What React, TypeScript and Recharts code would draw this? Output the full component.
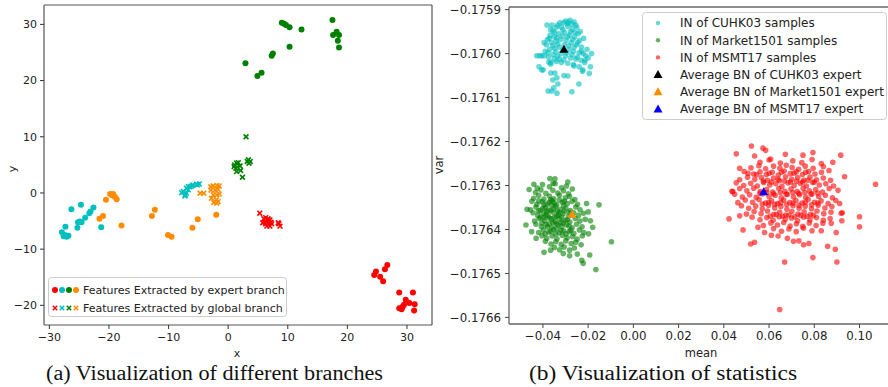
import { ScatterChart, Scatter, XAxis, YAxis, ReferenceLine } from 'recharts'

const FONT = 'DejaVu Sans'

// ---- (a) features, t-SNE style coordinates ----
const expertRed = [
  [24.5, -14.6], [24.8, -14.0], [25.5, -14.9], [26.0, -15.7], [26.3, -13.6], [26.7, -12.8],
  [28.7, -17.7], [31.0, -17.7], [29.8, -19.0], [30.4, -19.6], [31.3, -19.8], [29.3, -20.2],
  [28.7, -20.5], [29.1, -20.7], [31.2, -20.9], [29.5, -19.9],
]
const expertCyan = [
  [-27.9, -7.0], [-27.1, -7.8], [-27.4, -7.5], [-26.8, -7.6], [-27.3, -6.0], [-26.3, -2.9],
  [-24.7, -2.1], [-24.9, -5.1], [-25.2, -5.2], [-25.3, -6.2], [-24.0, -4.4], [-23.3, -3.6],
  [-23.1, -3.3], [-22.6, -2.6], [-21.3, -6.1], [-24.6, -5.2], [-27.6, -7.7],
]
const expertGreen = [
  [9.0, 30.3], [9.4, 30.1], [9.7, 29.9], [10.3, 29.5], [12.3, 29.1], [10.3, 26.0],
  [17.5, 30.8], [17.6, 28.1], [18.2, 28.7], [18.6, 28.1], [18.4, 27.1], [18.6, 25.9],
  [7.3, 24.4], [7.5, 24.8], [4.9, 20.8], [5.6, 21.4], [2.9, 23.1],
]
const expertOrange = [
  [-19.5, -0.4], [-19.3, -0.2], [-19.0, -0.7], [-18.7, -1.1], [-20.5, -1.2], [-21.6, -4.6],
  [-21.0, -4.1], [-17.9, -5.8], [-12.8, -4.1], [-12.3, -3.0], [-10.1, -7.5], [-9.5, -7.8],
  [-6.0, -6.2], [-5.1, -4.7], [-2.0, -3.9], [-19.8, -0.2], [-19.2, -0.5],
]
const globalRed = [
  [5.3, -3.6], [6.0, -4.6], [6.3, -4.4], [6.7, -4.6], [7.0, -4.8], [7.2, -5.2], [6.7, -5.3],
  [6.2, -5.2], [5.8, -5.3], [6.5, -5.9], [7.0, -5.9], [7.3, -5.5], [6.8, -5.0], [6.3, -5.5],
  [8.4, -5.3], [8.7, -5.9], [8.5, -5.5],
]
const globalCyan = [
  [-7.5, 0.25], [-7.0, 0.85], [-7.2, -0.35], [-6.7, 0.55], [-6.4, 1.1], [-5.9, 1.4],
  [-5.3, 1.55], [-4.85, 1.6], [-7.0, -0.05], [-6.1, 1.25], [-7.8, 0.05], [-7.25, -0.55],
  [-6.7, 1.1], [-5.15, 1.45],
]
const globalGreen = [
  [3.0, 10.0], [1.4, 5.3], [2.1, 4.0], [2.4, 2.8], [3.4, 5.9], [3.7, 5.6], [3.2, 5.6],
  [1.1, 5.0], [1.7, 5.4], [2.0, 4.8], [1.3, 4.4], [1.4, 3.8], [1.0, 4.7], [3.5, 5.3],
]
const globalOrange = [
  [-4.7, -0.05], [-4.1, -0.05], [-2.9, 1.1], [-2.5, 1.25], [-1.9, 1.3], [-1.5, 1.25],
  [-2.9, 0.5], [-2.2, 0.5], [-1.7, 0.65], [-2.5, -0.35], [-1.9, -0.35], [-1.5, -0.2],
  [-2.8, -0.95], [-2.0, -1.25], [-1.7, -1.55], [-2.4, -1.7], [-1.9, -1.8],
]
const ticksA_x = [-30, -20, -10, 0, 10, 20, 30]
const ticksA_y = [-20, -10, 0, 10, 20, 30]

// ---- (b) statistics: [mean, var] ----
const inCuhk = [
  [-0.0325, -0.17593], [-0.0300, -0.175926], [-0.0280, -0.175924], [-0.0262, -0.175928], [-0.0250, -0.17594],
  [-0.0340, -0.17594], [-0.0355, -0.175948], [-0.0318, -0.17594], [-0.0290, -0.175938], [-0.0270, -0.175945],
  [-0.0245, -0.175955], [-0.0368, -0.175958], [-0.0380, -0.175968], [-0.0350, -0.175962], [-0.0330, -0.175955],
  [-0.0305, -0.175952], [-0.0283, -0.175958], [-0.0260, -0.175962], [-0.0238, -0.17597], [-0.0385, -0.17598],
  [-0.0362, -0.175975], [-0.0342, -0.175972], [-0.0322, -0.175968], [-0.0298, -0.17597], [-0.0275, -0.175975],
  [-0.0252, -0.17598], [-0.0230, -0.175985], [-0.0390, -0.175995], [-0.0370, -0.17599], [-0.0348, -0.175988],
  [-0.0327, -0.175985], [-0.0312, -0.175992], [-0.0285, -0.17599], [-0.0265, -0.175995], [-0.0240, -0.175998],
  [-0.0222, -0.176], [-0.0395, -0.176005], [-0.0375, -0.176008], [-0.0355, -0.176002], [-0.0335, -0.176006],
  [-0.0300, -0.176005], [-0.0278, -0.17601], [-0.0255, -0.176012], [-0.0232, -0.176015], [-0.0210, -0.176005],
  [-0.0405, -0.176005], [-0.0365, -0.17602], [-0.0340, -0.176018], [-0.0318, -0.17602], [-0.0290, -0.176022],
  [-0.0265, -0.176025], [-0.0240, -0.17603], [-0.0215, -0.17602], [-0.0382, -0.175935], [-0.0272, -0.175933],
  [-0.0310, -0.17593], [-0.0235, -0.17595], [-0.0360, -0.175935], [-0.0220, -0.175965], [-0.0395, -0.175975],
  [-0.0185, -0.176], [-0.0200, -0.17601], [-0.0205, -0.17599], [-0.0190, -0.17603], [-0.0225, -0.17604],
  [-0.0195, -0.176045], [-0.0428, -0.176005], [-0.0415, -0.176005], [-0.0417, -0.17603], [-0.0405, -0.176037],
  [-0.0374, -0.176019], [-0.0365, -0.176044], [-0.0347, -0.176044], [-0.0338, -0.176055], [-0.0356, -0.17606],
  [-0.0334, -0.176069], [-0.0352, -0.176078], [-0.0361, -0.176085], [-0.0338, -0.17609], [-0.0272, -0.176087],
  [-0.0241, -0.176069], [-0.0224, -0.176037], [-0.0263, -0.176028], [-0.0215, -0.176015], [-0.0290, -0.176051],
  [-0.0377, -0.176085], [-0.0307, -0.17605], [-0.0399, -0.176037], [-0.0366, -0.176024],
  [-0.0335, -0.175935], [-0.0292, -0.175932], [-0.0348, -0.175952], [-0.0312, -0.175946], [-0.0278, -0.17595],
  [-0.0258, -0.175952], [-0.0372, -0.175965], [-0.0338, -0.175964], [-0.0314, -0.17596], [-0.0291, -0.175962],
  [-0.0268, -0.175968], [-0.0246, -0.175975], [-0.0356, -0.175982], [-0.0334, -0.175978], [-0.0305, -0.17598],
  [-0.0286, -0.175982], [-0.0262, -0.175985], [-0.0378, -0.175998], [-0.0343, -0.175996], [-0.0320, -0.176],
  [-0.0295, -0.175998], [-0.0272, -0.176002], [-0.0248, -0.176008], [-0.0350, -0.176012], [-0.0328, -0.176012],
  [-0.0308, -0.176014], [-0.0366, -0.175945], [-0.0255, -0.175935], [-0.0288, -0.175928], [-0.0230, -0.175995],
]
const inMarket = [
  [-0.0402, -0.176298], [-0.0371, -0.176303], [-0.0346, -0.176296], [-0.0318, -0.176305], [-0.0296, -0.176301], [-0.0425, -0.176306],
  [-0.0433, -0.176316], [-0.0409, -0.17631], [-0.0387, -0.176318], [-0.0356, -0.176311], [-0.0334, -0.176317], [-0.0309, -0.176312],
  [-0.0287, -0.176319], [-0.0270, -0.176308], [-0.0441, -0.176329], [-0.0419, -0.176323], [-0.0396, -0.176331], [-0.0371, -0.176324],
  [-0.0352, -0.17633], [-0.0327, -0.176322], [-0.0301, -0.176328], [-0.0282, -0.176325], [-0.0259, -0.176332], [-0.0449, -0.176336],
  [-0.0427, -0.176343], [-0.0403, -0.176337], [-0.0381, -0.176342], [-0.0359, -0.176335], [-0.0339, -0.176344], [-0.0314, -0.176338],
  [-0.0292, -0.176341], [-0.0271, -0.176336], [-0.0247, -0.176343], [-0.0455, -0.176355], [-0.0431, -0.176349], [-0.0411, -0.176356],
  [-0.0389, -0.17635], [-0.0365, -0.176357], [-0.0344, -0.176348], [-0.0323, -0.176354], [-0.0299, -0.176351], [-0.0279, -0.176357],
  [-0.0255, -0.176349], [-0.0236, -0.176355], [-0.0444, -0.176362], [-0.0423, -0.176368], [-0.0398, -0.176363], [-0.0377, -0.176369],
  [-0.0356, -0.176361], [-0.0332, -0.176367], [-0.0311, -0.176364], [-0.0287, -0.17637], [-0.0264, -0.176362], [-0.0243, -0.176368],
  [-0.0221, -0.176363], [-0.0437, -0.176381], [-0.0416, -0.176375], [-0.0392, -0.17638], [-0.0371, -0.176374], [-0.0347, -0.176382],
  [-0.0327, -0.176376], [-0.0302, -0.176379], [-0.0281, -0.176383], [-0.0257, -0.176375], [-0.0236, -0.176381], [-0.0213, -0.176377],
  [-0.0431, -0.176388], [-0.0407, -0.176394], [-0.0386, -0.176389], [-0.0361, -0.176395], [-0.0341, -0.176387], [-0.0317, -0.176393],
  [-0.0296, -0.17639], [-0.0271, -0.176396], [-0.0251, -0.176388], [-0.0227, -0.176394], [-0.0419, -0.176407], [-0.0398, -0.176401],
  [-0.0374, -0.176406], [-0.0353, -0.1764], [-0.0329, -0.176408], [-0.0308, -0.176403], [-0.0284, -0.176405], [-0.0263, -0.176409],
  [-0.0239, -0.176401], [-0.0219, -0.176407], [-0.0404, -0.176414], [-0.0383, -0.17642], [-0.0359, -0.176415], [-0.0338, -0.176421],
  [-0.0314, -0.176413], [-0.0293, -0.176419], [-0.0269, -0.176416], [-0.0249, -0.176422], [-0.0226, -0.176415], [-0.0389, -0.176427],
  [-0.0364, -0.176433], [-0.0343, -0.176428], [-0.0319, -0.176434], [-0.0299, -0.176426], [-0.0275, -0.176432], [-0.0255, -0.176429],
  [-0.0231, -0.176435], [-0.0349, -0.176441], [-0.0326, -0.176446], [-0.0306, -0.17644], [-0.0282, -0.176447], [-0.0261, -0.176442],
  [-0.0362, -0.176345], [-0.0349, -0.176372], [-0.0335, -0.176358], [-0.0372, -0.176387], [-0.0321, -0.176384], [-0.0384, -0.17636],
  [-0.0340, -0.176398], [-0.0309, -0.176346], [-0.0366, -0.176332], [-0.0395, -0.176373],
  [-0.0418, -0.176335], [-0.0395, -0.176344], [-0.0372, -0.176338], [-0.0350, -0.17634], [-0.0327, -0.176333], [-0.0305, -0.176336],
  [-0.0420, -0.176358], [-0.0400, -0.176352], [-0.0377, -0.176356], [-0.0353, -0.176353], [-0.0330, -0.176362], [-0.0307, -0.176358],
  [-0.0285, -0.176361], [-0.0410, -0.176372], [-0.0387, -0.176368], [-0.0363, -0.176376], [-0.0340, -0.17637], [-0.0317, -0.176372],
  [-0.0292, -0.176378], [-0.0405, -0.176385], [-0.0380, -0.176394], [-0.0356, -0.176384], [-0.0333, -0.17639], [-0.0310, -0.176385],
  [-0.0285, -0.176392], [-0.0390, -0.17641], [-0.0366, -0.176404], [-0.0344, -0.17641], [-0.0320, -0.176402], [-0.0298, -0.17641],
  [-0.0277, -0.176402],
  [-0.0475, -0.17639], [-0.0097, -0.176428], [-0.0166, -0.176491], [-0.0222, -0.176477], [-0.0228, -0.17647], [-0.0366, -0.176447],
  [-0.0193, -0.176458], [-0.0152, -0.176344], [-0.0369, -0.176284], [-0.0347, -0.176285], [-0.0461, -0.176309], [-0.0470, -0.176354],
  [-0.0207, -0.176341], [-0.0190, -0.17638], [-0.0198, -0.17641], [-0.0180, -0.176395], [-0.0395, -0.176452], [-0.0248, -0.176456],
  [-0.0282, -0.17646], [-0.0310, -0.176455], [-0.0430, -0.17642], [-0.0450, -0.176405], [-0.0355, -0.176295], [-0.0290, -0.176292],
  [-0.0440, -0.176297], [-0.0200, -0.17636],
]
const inMsmt = [
  [0.0560, -0.176247], [0.0600, -0.176242], [0.0650, -0.176249], [0.0705, -0.176244], [0.0745, -0.176248], [0.0790, -0.176241],
  [0.0520, -0.17626], [0.0555, -0.176255], [0.0585, -0.176262], [0.0620, -0.176256], [0.0648, -0.176261], [0.0676, -0.176254],
  [0.0702, -0.176259], [0.0731, -0.176263], [0.0760, -0.176256], [0.0795, -0.176261], [0.0840, -0.176257],
  [0.0490, -0.176268], [0.0532, -0.176274], [0.0560, -0.176269], [0.0588, -0.176275], [0.0614, -0.17627], [0.0641, -0.176276],
  [0.0667, -0.176267], [0.0694, -0.176273], [0.0720, -0.176269], [0.0748, -0.176275], [0.0775, -0.176268], [0.0803, -0.176274],
  [0.0832, -0.17627], [0.0865, -0.176266],
  [0.0470, -0.176287], [0.0505, -0.176281], [0.0537, -0.176286], [0.0566, -0.176282], [0.0593, -0.176288], [0.0620, -0.176283],
  [0.0646, -0.176289], [0.0673, -0.17628], [0.0700, -0.176286], [0.0727, -0.176282], [0.0754, -0.176288], [0.0781, -0.176281],
  [0.0810, -0.176287], [0.0840, -0.176283], [0.0872, -0.176288],
  [0.0455, -0.176294], [0.0488, -0.1763], [0.0519, -0.176295], [0.0548, -0.176301], [0.0576, -0.176293], [0.0603, -0.176299],
  [0.0630, -0.176296], [0.0657, -0.176302], [0.0684, -0.176294], [0.0711, -0.1763], [0.0738, -0.176295], [0.0765, -0.176301],
  [0.0793, -0.176293], [0.0822, -0.176299], [0.0851, -0.176296], [0.0885, -0.176301],
  [0.0436, -0.176313], [0.0470, -0.176307], [0.0502, -0.176312], [0.0532, -0.176306], [0.0561, -0.176314], [0.0589, -0.176309],
  [0.0616, -0.176315], [0.0643, -0.176307], [0.0670, -0.176313], [0.0697, -0.176308], [0.0724, -0.176314], [0.0751, -0.176306],
  [0.0778, -0.176312], [0.0806, -0.176309], [0.0836, -0.176315], [0.0866, -0.176307], [0.0905, -0.176311],
  [0.0448, -0.17632], [0.0482, -0.176326], [0.0514, -0.176321], [0.0543, -0.176327], [0.0572, -0.176319], [0.0600, -0.176325],
  [0.0627, -0.176322], [0.0654, -0.176328], [0.0681, -0.17632], [0.0708, -0.176326], [0.0735, -0.176321], [0.0762, -0.176327],
  [0.0790, -0.176319], [0.0819, -0.176325], [0.0849, -0.176322], [0.0880, -0.176328],
  [0.0462, -0.176339], [0.0495, -0.176333], [0.0527, -0.176338], [0.0556, -0.176332], [0.0584, -0.17634], [0.0611, -0.176335],
  [0.0638, -0.176341], [0.0665, -0.176333], [0.0692, -0.176339], [0.0719, -0.176334], [0.0746, -0.17634], [0.0773, -0.176332],
  [0.0801, -0.176338], [0.0830, -0.176335], [0.0861, -0.176341], [0.0895, -0.176334],
  [0.0478, -0.176346], [0.0510, -0.176352], [0.0541, -0.176347], [0.0570, -0.176353], [0.0598, -0.176345], [0.0625, -0.176351],
  [0.0652, -0.176348], [0.0679, -0.176354], [0.0706, -0.176346], [0.0733, -0.176352], [0.0760, -0.176347], [0.0788, -0.176353],
  [0.0817, -0.176345], [0.0847, -0.176351], [0.0878, -0.176348],
  [0.0500, -0.176365], [0.0534, -0.176359], [0.0565, -0.176364], [0.0593, -0.176358], [0.0620, -0.176366], [0.0647, -0.176361],
  [0.0674, -0.176367], [0.0701, -0.176359], [0.0728, -0.176365], [0.0755, -0.17636], [0.0783, -0.176366], [0.0812, -0.176358],
  [0.0842, -0.176364], [0.0874, -0.176361],
  [0.0525, -0.176372], [0.0560, -0.176378], [0.0590, -0.176373], [0.0618, -0.176379], [0.0645, -0.176371], [0.0672, -0.176377],
  [0.0699, -0.176374], [0.0726, -0.17638], [0.0753, -0.176372], [0.0781, -0.176378], [0.0810, -0.176373], [0.0840, -0.176379],
  [0.0870, -0.176375],
  [0.0575, -0.176391], [0.0608, -0.176385], [0.0637, -0.17639], [0.0665, -0.176384], [0.0693, -0.176392], [0.0721, -0.176387],
  [0.0749, -0.176393], [0.0778, -0.176385], [0.0808, -0.176391], [0.0838, -0.176386],
  [0.0620, -0.176398], [0.0655, -0.176404], [0.0688, -0.176399], [0.0720, -0.176405], [0.0752, -0.176397], [0.0790, -0.176403],
  [0.0575, -0.17629], [0.0610, -0.176292], [0.0640, -0.176286], [0.0668, -0.17629], [0.0695, -0.176292], [0.0722, -0.17629],
  [0.0748, -0.176292], [0.0772, -0.176288], [0.0800, -0.176292], [0.0560, -0.176318], [0.0590, -0.176316], [0.0620, -0.176319],
  [0.0650, -0.176316], [0.0676, -0.17632], [0.0705, -0.176316], [0.0732, -0.176318], [0.0758, -0.176316], [0.0786, -0.17632],
  [0.0815, -0.176317], [0.0570, -0.176342], [0.0598, -0.176338], [0.0625, -0.176343], [0.0652, -0.176339], [0.0678, -0.176343],
  [0.0706, -0.17634], [0.0732, -0.176345], [0.0760, -0.176338], [0.0788, -0.176344], [0.0816, -0.17634], [0.0605, -0.17637],
  [0.0632, -0.176366], [0.0660, -0.17637], [0.0688, -0.176367], [0.0714, -0.176371], [0.0740, -0.176368], [0.0768, -0.17637],
  [0.0796, -0.176368], [0.0545, -0.176275], [0.0600, -0.176272], [0.0655, -0.17627], [0.0710, -0.176272], [0.0762, -0.17627],
  [0.0455, -0.176228], [0.0522, -0.17621], [0.0573, -0.176215], [0.0585, -0.17622], [0.0672, -0.176229], [0.0750, -0.176231],
  [0.0794, -0.176225], [0.0917, -0.176231], [0.0536, -0.176233], [0.0607, -0.17624], [0.0831, -0.17625], [0.0882, -0.176247],
  [0.0934, -0.17628], [0.1071, -0.176297], [0.0440, -0.176314], [0.0470, -0.176261], [0.0507, -0.176272], [0.0423, -0.176376],
  [0.0470, -0.176369], [0.0485, -0.176401], [0.0519, -0.176433], [0.0536, -0.176429], [0.0551, -0.176395], [0.0580, -0.176407],
  [0.0681, -0.17642], [0.0708, -0.176427], [0.0732, -0.176426], [0.0753, -0.176435], [0.0776, -0.176432], [0.0794, -0.176464],
  [0.0669, -0.176474], [0.0859, -0.176438], [0.0893, -0.176445], [0.0900, -0.176474], [0.0912, -0.176341], [0.0919, -0.176363],
  [0.0924, -0.176362], [0.0922, -0.17638], [0.1000, -0.176371], [0.1000, -0.176394], [0.0897, -0.176407], [0.0831, -0.176403],
  [0.0875, -0.176386], [0.0647, -0.176582], [0.0640, -0.176415], [0.0610, -0.176413],
]
const bnCuhk = [[-0.0307, -0.17599]]
const bnMarket = [[-0.0271, -0.1763656]]
const bnMsmt = [[0.0576, -0.176314]]
const ticksB_x = [-0.04, -0.02, 0, 0.02, 0.04, 0.06, 0.08, 0.1]
const ticksB_y = [-0.1766, -0.1765, -0.1764, -0.1763, -0.1762, -0.1761, -0.176, -0.1759]

const RED = '#ff0000'
const CYAN = '#00bfbf'
const GREEN = '#008000'
const ORANGE = '#ff8c00'

const pts = (a: number[][]) => a.map(([x, y]) => ({ x, y }))
const minus = (s: string) => s.replace('-', '\u2212')

const dot = (color: string, r: number, op = 1) => (p: any) => (
  <circle cx={p.cx} cy={p.cy} r={r} fill={color} fillOpacity={op} />
)
const cross = (color: string) => (p: any) => (
  <g stroke={color} strokeWidth={1.6}>
    <line x1={p.cx - 2.4} y1={p.cy - 2.4} x2={p.cx + 2.4} y2={p.cy + 2.4} />
    <line x1={p.cx - 2.4} y1={p.cy + 2.4} x2={p.cx + 2.4} y2={p.cy - 2.4} />
  </g>
)
const tri = (color: string) => (p: any) => (
  <polygon points={`${p.cx},${p.cy - 4.5} ${p.cx + 4.5},${p.cy + 3.5} ${p.cx - 4.5},${p.cy + 3.5}`} fill={color} />
)

const tickStyle = { fontSize: 11, fill: '#222', fontFamily: FONT }
const tickStyleB = { fontSize: 11.8, fill: '#222', fontFamily: FONT }
const spine = '#555'

function ChartA() {
  const xDom: [number, number] = [-30.9, 34.2]
  const yDom: [number, number] = [-23.5, 33.45]
  return (
    <ScatterChart width={440} height={387} margin={{ top: 5, right: 8, bottom: 0, left: 0 }}>
      <XAxis type="number" dataKey="x" domain={xDom} ticks={ticksA_x} allowDataOverflow interval={0}
        height={62} tickSize={4} tickMargin={4} tick={tickStyle} tickFormatter={(v) => minus(String(v))}
        axisLine={{ stroke: spine, strokeWidth: 1.2 }} tickLine={{ stroke: '#333' }} />
      <YAxis type="number" dataKey="y" domain={yDom} ticks={ticksA_y} allowDataOverflow interval={0}
        width={44} tickSize={4} tickMargin={3} tick={tickStyle} tickFormatter={(v) => minus(String(v))}
        axisLine={{ stroke: spine, strokeWidth: 1.2 }} tickLine={{ stroke: '#333' }} />
      <ReferenceLine y={yDom[1]} stroke={spine} strokeWidth={1.2} />
      <ReferenceLine x={xDom[1]} stroke={spine} strokeWidth={1.2} />
      <Scatter data={pts(expertRed)} shape={dot(RED, 3)} isAnimationActive={false} />
      <Scatter data={pts(expertCyan)} shape={dot(CYAN, 3)} isAnimationActive={false} />
      <Scatter data={pts(expertGreen)} shape={dot(GREEN, 3)} isAnimationActive={false} />
      <Scatter data={pts(expertOrange)} shape={dot(ORANGE, 3)} isAnimationActive={false} />
      <Scatter data={pts(globalRed)} shape={cross(RED)} isAnimationActive={false} />
      <Scatter data={pts(globalCyan)} shape={cross(CYAN)} isAnimationActive={false} />
      <Scatter data={pts(globalGreen)} shape={cross(GREEN)} isAnimationActive={false} />
      <Scatter data={pts(globalOrange)} shape={cross(ORANGE)} isAnimationActive={false} />
    </ScatterChart>
  )
}

function ChartB() {
  const xDom: [number, number] = [-0.055, 0.1126]
  const yDom: [number, number] = [-0.176615, -0.175894]
  return (
    <ScatterChart width={448} height={387} margin={{ top: 7, right: 0, bottom: 0, left: 0 }}>
      <XAxis type="number" dataKey="x" domain={xDom} ticks={ticksB_x} allowDataOverflow interval={0}
        height={63} tickSize={4} tickMargin={4} tick={tickStyleB} tickFormatter={(v) => minus(v.toFixed(2))}
        axisLine={{ stroke: '#666', strokeWidth: 1.3 }} tickLine={{ stroke: '#444' }} />
      <YAxis type="number" dataKey="y" domain={yDom} ticks={ticksB_y} allowDataOverflow interval={0}
        width={69} tickSize={4} tickMargin={4} tick={tickStyleB} tickFormatter={(v) => minus(v.toFixed(4))}
        axisLine={{ stroke: '#666', strokeWidth: 1.3 }} tickLine={{ stroke: '#444' }} />
      <ReferenceLine y={yDom[1]} stroke="#666" strokeWidth={1.3} />
      <Scatter data={pts(inCuhk)} shape={dot(CYAN, 2.8, 0.6)} isAnimationActive={false} />
      <Scatter data={pts(inMarket)} shape={dot(GREEN, 2.8, 0.6)} isAnimationActive={false} />
      <Scatter data={pts(inMsmt)} shape={dot(RED, 2.8, 0.6)} isAnimationActive={false} />
      <Scatter data={pts(bnCuhk)} shape={tri('#000')} isAnimationActive={false} />
      <Scatter data={pts(bnMarket)} shape={tri(ORANGE)} isAnimationActive={false} />
      <Scatter data={pts(bnMsmt)} shape={tri('#0000ff')} isAnimationActive={false} />
    </ScatterChart>
  )
}

const legendA = ['Features Extracted by expert branch', 'Features Extracted by global branch']
const legendB = [
  { label: 'IN of CUHK03 samples', color: CYAN, kind: 'dot' },
  { label: 'IN of Market1501 samples', color: GREEN, kind: 'dot' },
  { label: 'IN of MSMT17 samples', color: RED, kind: 'dot' },
  { label: 'Average BN of CUHK03 expert', color: '#000', kind: 'tri' },
  { label: 'Average BN of Market1501 expert', color: ORANGE, kind: 'tri' },
  { label: 'Average BN of MSMT17 expert', color: '#0000ff', kind: 'tri' },
]

function Overlay() {
  const colors = [RED, CYAN, GREEN, ORANGE]
  return (
    <svg width={888} height={387} style={{ position: 'absolute', left: 0, top: 0, pointerEvents: 'none' }}>
      {/* legend (a) */}
      <rect x={48.5} y={277.5} width={238} height={39} rx={3} fill="#fff" fillOpacity={0.8} stroke="#ccc" />
      {colors.map((c, i) => (
        <circle key={'d' + i} cx={55 + i * 7} cy={290} r={3} fill={c} />
      ))}
      {colors.map((c, i) => (
        <g key={'x' + i} stroke={c} strokeWidth={1.5}>
          <line x1={52.8 + i * 7} y1={305.8} x2={57.2 + i * 7} y2={310.2} />
          <line x1={52.8 + i * 7} y1={310.2} x2={57.2 + i * 7} y2={305.8} />
        </g>
      ))}
      {legendA.map((t, i) => (
        <text key={t} x={83} y={294 + i * 18} fontSize={11} fontFamily={FONT} fill="#222">{t}</text>
      ))}
      {/* legend (b) */}
      <rect x={642.5} y={12.5} width={244} height={107} rx={3} fill="#fff" fillOpacity={0.8} stroke="#ccc" />
      {legendB.map((e, i) => {
        const y = 23 + i * 17.2
        return (
          <g key={e.label}>
            {e.kind === 'dot' ? (
              <circle cx={658} cy={y} r={2.2} fill={e.color} fillOpacity={0.6} />
            ) : (
              <polygon points={`658,${y - 4.5} 662.5,${y + 3.5} 653.5,${y + 3.5}`} fill={e.color} />
            )}
            <text x={680} y={y + 4.3} fontSize={12} fontFamily={FONT} fill="#222">{e.label}</text>
          </g>
        )
      })}
      {/* axis titles */}
      <text x={237} y={357} fontSize={11} fontFamily={FONT} fill="#222" textAnchor="middle">x</text>
      <text x={701} y={357} fontSize={11.5} fontFamily={FONT} fill="#222" textAnchor="middle">mean</text>
      <text transform="translate(16,169) rotate(-90)" fontSize={11} fontFamily={FONT} fill="#222" textAnchor="middle">y</text>
      <text transform="translate(443,165) rotate(-90)" fontSize={11.5} fontFamily={FONT} fill="#222" textAnchor="middle">var</text>
      {/* captions */}
      <text x={46} y={380} fontSize={20} fontFamily="Liberation Serif" fill="#111" textLength={337} lengthAdjust="spacingAndGlyphs">
        (a) Visualization of different branches
      </text>
      <text x={529} y={380} fontSize={20} fontFamily="Liberation Serif" fill="#111" textLength={268} lengthAdjust="spacingAndGlyphs">
        (b) Visualization of statistics
      </text>
    </svg>
  )
}

export default function App() {
  return (
    <div style={{ position: 'absolute', left: 0, top: 0, width: 888, height: 387, background: '#fff', overflow: 'hidden' }}>
      <div style={{ position: 'absolute', left: 0, top: 0 }}>
        <ChartA />
      </div>
      <div style={{ position: 'absolute', left: 440, top: 0 }}>
        <ChartB />
      </div>
      <Overlay />
    </div>
  )
}
